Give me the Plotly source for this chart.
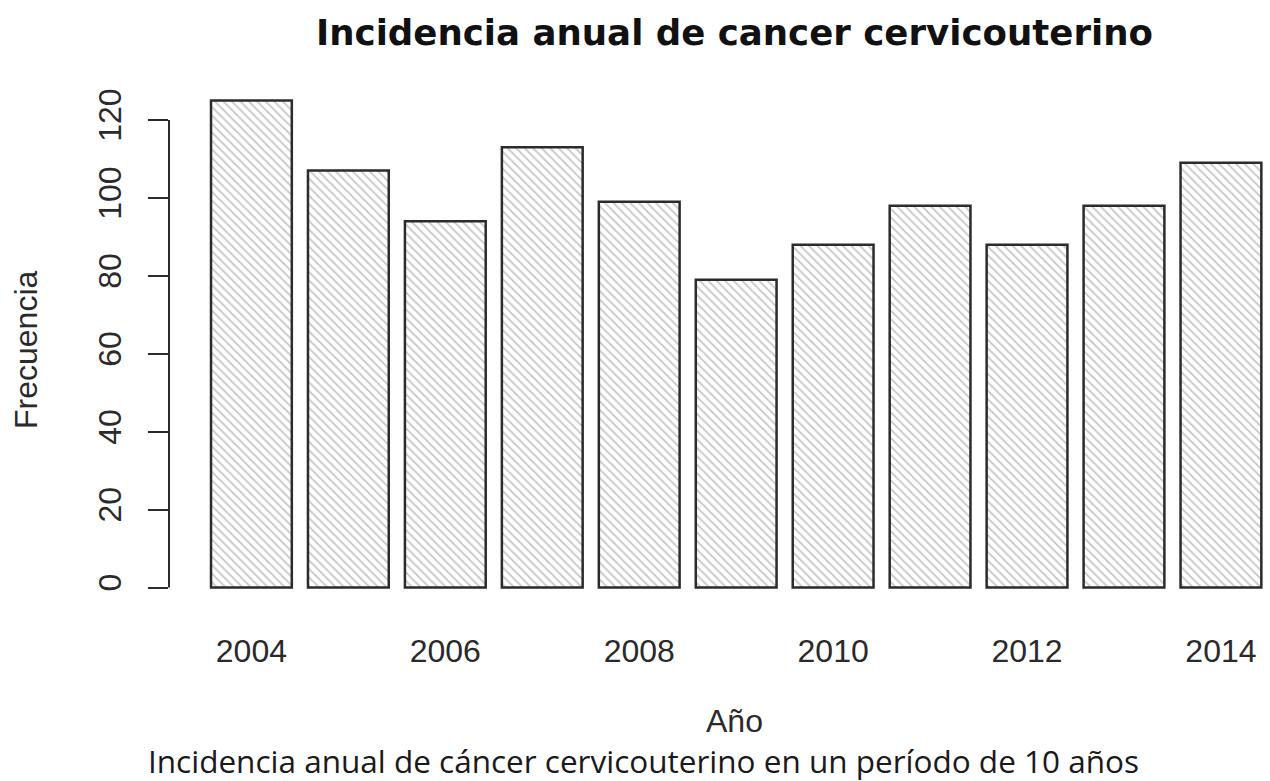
import plotly.graph_objects as go

# Annual cervical cancer incidence, 2004-2014
years = [2004, 2005, 2006, 2007, 2008, 2009, 2010, 2011, 2012, 2013, 2014]
frecuencia = [125, 107, 94, 113, 99, 79, 88, 98, 88, 98, 109]
y_ticks = [0, 20, 40, 60, 80, 100, 120]
x_ticks = [2004, 2006, 2008, 2010, 2012, 2014]

W, H = 1270, 781
ML, MR, MT, MB = 169, 0, 81, 174

fig = go.Figure()
fig.add_trace(go.Bar(
    x=years,
    y=frecuencia,
    width=1 / 1.2,
    marker=dict(
        color="white",
        line=dict(color="#2b2b2b", width=2.5),
        pattern=dict(shape="\\", fgcolor="#8c8c8c", bgcolor="white",
                     size=6, solidity=0.3),
    ),
    showlegend=False,
))

# y axis line spanning only the tick range (base-graphics style)
fig.add_shape(type="line", xref="paper", yref="y",
              x0=0, x1=0, y0=y_ticks[0], y1=y_ticks[-1],
              line=dict(color="#2b2b2b", width=2))

axis_font = dict(family="Liberation Sans, Arial, sans-serif", size=32, color="#2a2a2a")
pw = W - ML - MR
ph = H - MT - MB

fig.update_layout(
    width=W, height=H,
    margin=dict(l=ML, r=MR, t=MT, b=MB, pad=0),
    paper_bgcolor="white", plot_bgcolor="white",
    xaxis=dict(
        range=[2003.15, 2014.506],
        tickvals=x_ticks, ticktext=[str(v) for v in x_ticks],
        ticks="", showline=False, showgrid=False, zeroline=False,
        tickfont=axis_font, ticklabelstandoff=22,
    ),
    yaxis=dict(
        range=[-5, 130],
        tickvals=y_ticks, ticks="outside", ticklen=20, tickwidth=2,
        tickcolor="#2b2b2b", tickangle=-90,
        showline=False, showgrid=False, zeroline=False,
        tickfont=axis_font, ticklabelstandoff=14,
    ),
    annotations=[
        dict(text="<b>Incidencia anual de cancer cervicouterino</b>",
             xref="paper", yref="paper",
             x=(734 - ML) / pw, y=1 + (MT - 32) / ph,
             xanchor="center", yanchor="middle", showarrow=False,
             font=dict(family="DejaVu Sans, sans-serif", size=35.6, color="#111")),
        dict(text="Año", xref="paper", yref="paper",
             x=(734 - ML) / pw, y=-(721 - (H - MB)) / ph,
             xanchor="center", yanchor="middle", showarrow=False,
             font=axis_font),
        dict(text="Frecuencia", xref="paper", yref="paper",
             x=-(ML - 26) / pw, y=(H - MB - 350) / ph,
             xanchor="center", yanchor="middle", textangle=-90, showarrow=False,
             font=axis_font),
        dict(text="Incidencia anual de cáncer cervicouterino en un período de 10 años",
             xref="paper", yref="paper",
             x=(643 - ML) / pw, y=-(760 - (H - MB)) / ph,
             xanchor="center", yanchor="middle", showarrow=False,
             font=dict(family="Open Sans, sans-serif", size=31.5, color="#1a1a1a")),
    ],
)

fig.write_html("out.html")
